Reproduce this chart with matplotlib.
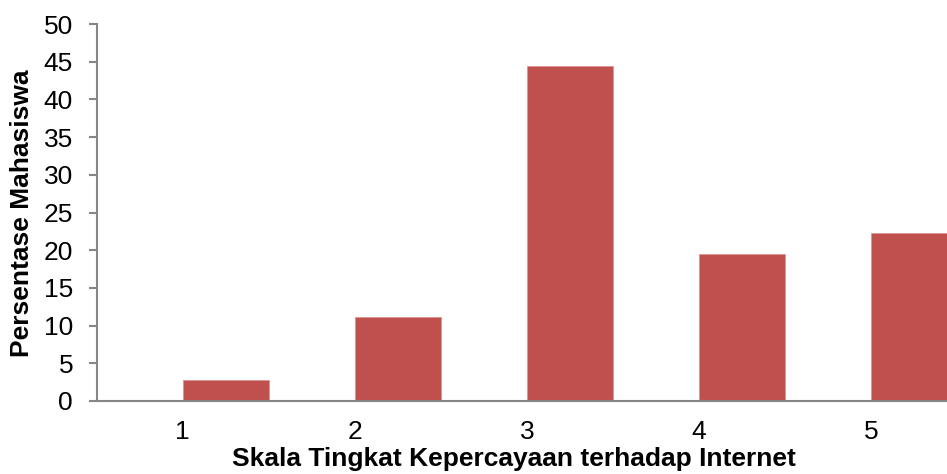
import matplotlib
matplotlib.use("Agg")
import matplotlib.pyplot as plt

categories = ["1", "2", "3", "4", "5"]
values = [2.78, 11.11, 44.44, 19.44, 22.22]
yticks = [0, 5, 10, 15, 20, 25, 30, 35, 40, 45, 50]

plt.rcParams['font.family'] = ['Liberation Sans', 'DejaVu Sans']

fig = plt.figure(figsize=(9.47, 4.74), dpi=100)
ax = fig.add_axes([96.7/947, 73/474, (957-96.7)/947, (450-73)/474])

x = list(range(1, len(categories) + 1))
ax.bar(x, values, width=0.5, align='edge', color='#C0504D', edgecolor='#D99694', linewidth=0.6, zorder=2)

ax.set_xlim(0.5, 5.5)
ax.set_ylim(0, 50)
ax.set_yticks(yticks)
ax.set_xticks(x)
ax.set_xticklabels(categories)

for s in ['top', 'right']:
    ax.spines[s].set_visible(False)
for s in ['left', 'bottom']:
    ax.spines[s].set_color('#868686')
    ax.spines[s].set_linewidth(1.5)

ax.tick_params(axis='y', direction='out', length=6, width=1.5, color='#868686', labelsize=19, pad=11, labelcolor='black')
ax.tick_params(axis='x', length=0, labelsize=19, pad=14, labelcolor='black')

fig.text(514/947, 1 - 466/474, 'Skala Tingkat Kepercayaan terhadap Internet', ha='center', va='baseline',
         fontsize=19, fontweight='bold')
fig.text(22/947, 1 - 213/474, 'Persentase Mahasiswa', ha='center', va='center', rotation=90,
         fontsize=19, fontweight='bold')

fig.savefig('out.png', dpi=100)
